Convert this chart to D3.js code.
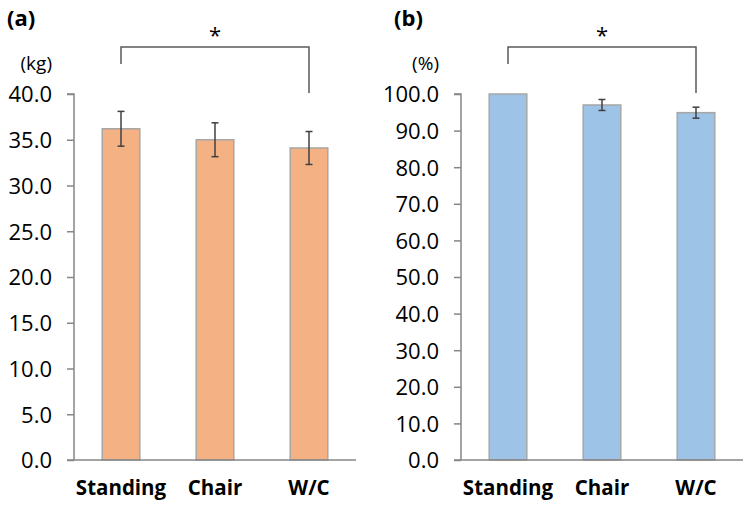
<!DOCTYPE html>
<html>
<head>
<meta charset="utf-8">
<script src="https://cdn.jsdelivr.net/npm/d3@7"></script>
<style>
  body { margin: 0; background: #fff; }
  text { font-family: "Open Sans", "Noto Sans", sans-serif; fill: #000; }
</style>
</head>
<body>
<div id="chart"></div>
<script>
// Data
var categories = ["Standing", "Chair", "W/C"];
var gripMeans = [36.2, 35.0, 34.1];     // (a) kg
var gripSD = [1.9, 1.85, 1.8];
var ratioMeans = [100.0, 97.0, 94.9];   // (b) %
var ratioSD = [0, 1.5, 1.5];
var gripTicks = [0, 5, 10, 15, 20, 25, 30, 35, 40];
var ratioTicks = [0, 10, 20, 30, 40, 50, 60, 70, 80, 90, 100];

var svgWidth = 750;
var svgHeight = 507;

var svg = d3.select("#chart")
    .append("svg")
    .attr("width", svgWidth)
    .attr("height", svgHeight);

var axisColor = "#868686";

//Draw one panel
function drawPanel(opt) {
    var g = svg.append("g");

    var x = d3.scaleBand()
        .domain(categories)
        .range([opt.left, opt.left + 282])
        .paddingInner(0.6)
        .paddingOuter(0.3);

    var y = d3.scaleLinear()
        .domain([0, opt.max])
        .range([460, 94]);

    // y axis
    var leftAxis = d3.axisLeft(y)
        .tickValues(opt.ticks)
        .tickFormat(d3.format(".1f"))
        .tickSize(7)
        .tickPadding(15);
    var ya = g.append("g")
        .attr("transform", `translate(${opt.left}, 0)`)
        .call(leftAxis);
    ya.select(".domain").attr("stroke", axisColor).attr("stroke-width", 1.5)
        .attr("d", `M-7,${y(opt.max)}H0V${y(0)}`);
    ya.selectAll(".tick line").attr("stroke", axisColor).attr("stroke-width", 1.5);
    ya.selectAll(".tick text")
        .attr("font-size", 22)
        .attr("font-family", "Open Sans")
        .attr("fill", "#000")
        .attr("dy", "0.36em");

    // unit label
    g.append("text")
        .attr("x", opt.left - 22)
        .attr("y", 70)
        .attr("text-anchor", "end")
        .attr("font-size", 19)
        .text(opt.unit);

    // panel label
    g.append("text")
        .attr("x", opt.left - 67)
        .attr("y", 26)
        .attr("font-size", 22)
        .attr("font-weight", "bold")
        .text(opt.label);

    // bars
    g.selectAll("rect.bar")
        .data(opt.means)
        .enter()
        .append("rect")
        .attr("class", "bar")
        .attr("x", (d, i) => x(categories[i]))
        .attr("width", x.bandwidth())
        .attr("y", d => y(d))
        .attr("height", d => y(0) - y(d))
        .attr("fill", opt.fill)
        .attr("stroke", "#a6a6a6")
        .attr("stroke-width", 1.5);

    // x axis
    var bottomAxis = d3.axisBottom(x).tickSize(0).tickPadding(14);
    var xa = g.append("g")
        .attr("transform", `translate(0, ${y(0)})`)
        .call(bottomAxis);
    xa.select(".domain").attr("stroke", axisColor).attr("stroke-width", 1.5)
        .attr("d", `M${opt.left - 7},0H${opt.left + 282}`);
    xa.selectAll(".tick text")
        .attr("font-size", 20.5)
        .attr("font-weight", "bold")
        .attr("font-family", "Open Sans")
        .attr("fill", "#000")
        .attr("dy", "1.0em");

    // error bars
    var cx = i => x(categories[i]) + x.bandwidth() / 2;
    var err = g.append("g").attr("stroke", "#404040").attr("stroke-width", 1.5);
    opt.means.forEach(function(m, i) {
        var sd = opt.sd[i];
        if (sd <= 0) return;
        var hi = y(m + sd), lo = y(m - sd);
        err.append("line").attr("x1", cx(i)).attr("x2", cx(i)).attr("y1", hi).attr("y2", lo);
        err.append("line").attr("x1", cx(i) - 3.5).attr("x2", cx(i) + 3.5).attr("y1", hi).attr("y2", hi);
        err.append("line").attr("x1", cx(i) - 3.5).attr("x2", cx(i) + 3.5).attr("y1", lo).attr("y2", lo);
    });

    // significance bracket
    var x0 = cx(0), x2 = cx(2);
    g.append("path")
        .attr("d", `M${x0},64V47H${x2}V93`)
        .attr("fill", "none")
        .attr("stroke", "#595959")
        .attr("stroke-width", 1.5);
    g.append("text")
        .attr("x", (x0 + x2) / 2)
        .attr("y", 43)
        .attr("text-anchor", "middle")
        .attr("font-size", 22)
        .text("*");
}

drawPanel({ left: 74, max: 40, ticks: gripTicks, means: gripMeans, sd: gripSD,
    fill: "#f4b183", unit: "(kg)", label: "(a)" });
drawPanel({ left: 461, max: 100, ticks: ratioTicks, means: ratioMeans, sd: ratioSD,
    fill: "#9dc3e6", unit: "(%)", label: "(b)" });
</script>
</body>
</html>
